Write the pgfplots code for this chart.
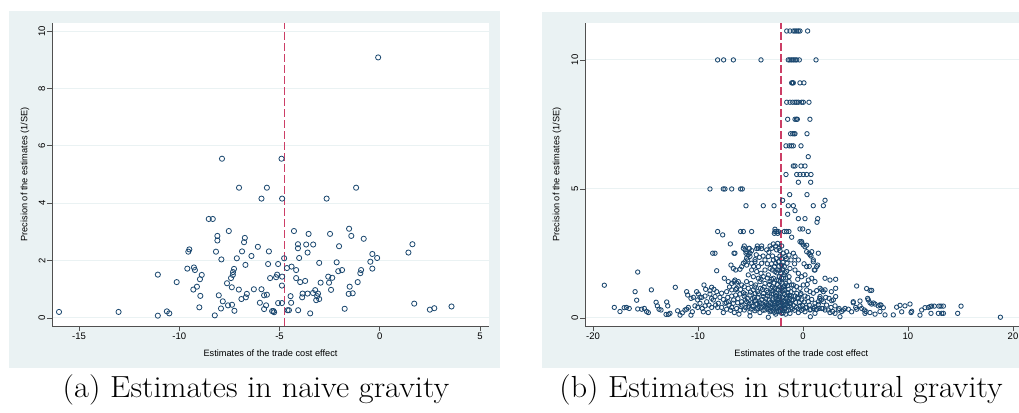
\documentclass[border=0pt]{standalone}
\usepackage{fontspec}
\usepackage{pgfplots}
\pgfplotsset{compat=1.18}
\newfontfamily\stata{Liberation Sans}
\definecolor{stbg}{RGB}{234,242,243}
\definecolor{stnavy}{RGB}{26,71,111}
\definecolor{stred}{RGB}{204,62,102}
\definecolor{staxis}{RGB}{80,80,80}
\pgfplotstableread{
x y
-7.87 5.55
-4.90 5.55
-7.02 4.54
-5.63 4.54
-5.90 4.16
-4.87 4.16
-2.65 4.16
-1.18 4.54
-8.53 3.45
-8.33 3.45
-7.53 3.03
-8.10 2.86
-8.10 2.70
-6.73 2.79
-6.77 2.64
-6.08 2.48
-9.50 2.39
-9.55 2.31
-8.17 2.31
-6.87 2.32
-5.53 2.32
-6.40 2.16
-7.90 2.04
-7.13 2.08
-4.77 2.08
-4.28 3.03
-3.55 2.93
-2.48 2.93
-1.53 3.11
-1.42 2.86
-0.80 2.76
-4.08 2.57
-4.08 2.43
-3.67 2.56
-3.32 2.56
-3.60 2.28
-2.03 2.50
-4.02 2.09
-0.37 2.23
-0.13 2.09
-0.47 1.96
-0.37 1.72
-6.70 1.85
-5.57 1.88
-5.07 1.88
-3.02 1.92
-2.15 1.94
-9.60 1.72
-9.27 1.76
-9.22 1.67
-11.07 1.51
-8.88 1.50
-8.97 1.35
-10.13 1.25
-7.27 1.71
-7.32 1.60
-7.33 1.50
-7.42 1.39
-4.63 1.74
-4.40 1.79
-4.17 1.67
-5.12 1.51
-5.17 1.42
-5.47 1.39
-4.87 1.44
-4.17 1.39
-3.97 1.25
-3.72 1.29
-2.57 1.44
-2.37 1.40
-2.53 1.23
-2.95 1.23
-2.07 1.63
-1.88 1.67
-0.93 1.67
-0.97 1.56
-1.10 1.25
-7.62 1.21
-7.38 1.07
-9.30 0.99
-9.12 1.09
-8.95 0.77
-8.03 0.79
-7.03 0.99
-6.28 1.00
-5.90 1.00
-5.77 0.79
-5.63 0.81
-4.88 1.13
-6.63 0.84
-6.68 0.72
-6.90 0.66
-3.22 0.97
-3.08 0.85
-3.12 0.76
-3.02 0.66
-3.17 0.62
-3.85 0.85
-3.60 0.85
-3.87 0.72
-3.33 0.87
-2.43 0.98
-4.45 0.76
-1.50 1.09
-1.55 0.84
-1.35 0.86
-7.83 0.58
-7.57 0.44
-7.37 0.46
-7.25 0.25
-9.00 0.37
-7.92 0.33
-8.23 0.09
-11.07 0.08
-10.62 0.23
-10.50 0.16
-5.98 0.53
-5.67 0.44
-5.77 0.31
-5.37 0.24
-5.27 0.20
-5.30 0.24
-5.07 0.52
-4.88 0.52
-4.53 0.27
-4.60 0.27
-4.42 0.53
-4.07 0.27
-3.47 0.16
-1.75 0.32
-16.00 0.21
-13.03 0.21
1.43 2.28
1.63 2.57
1.72 0.50
2.50 0.29
2.72 0.34
3.58 0.40
-0.08 9.08
}\naive
\pgfplotstableread{
x y
-1.55 11.12
-1.24 11.12
-0.92 11.12
-0.76 11.12
-0.60 11.12
-0.44 11.12
-0.29 11.12
0.44 11.12
-8.13 10
-7.56 10
-6.63 10
-4.00 10
-1.40 10
-1.24 10
-1.08 10
-0.92 10
-0.76 10
-0.60 10
-0.35 10
1.24 10
-1.08 9.11
-1.00 9.11
-0.92 9.11
-0.29 9.11
0.09 9.11
-1.55 8.36
-1.24 8.36
-0.98 8.36
-0.76 8.36
-0.60 8.36
-0.44 8.36
-0.13 8.36
0.03 8.36
0.57 8.36
-1.46 7.70
-0.76 7.70
-0.62 7.70
-0.54 7.70
0.66 7.70
-1.18 7.14
-0.98 7.14
-0.85 7.14
-0.76 7.14
0.38 7.14
-1.62 6.67
-1.30 6.67
-1.10 6.67
-0.92 6.67
-0.19 6.67
0.50 6.25
-0.92 5.89
-0.76 5.89
-0.19 5.89
0.19 5.89
-1.62 5.56
-0.60 5.56
-0.29 5.56
0.03 5.56
0.35 5.56
0.76 5.56
-0.44 5.26
0.73 5.26
-8.86 5
-7.59 5
-7.43 5
-6.79 5
-5.94 5
-5.78 5
-1.27 4.78
0.38 4.78
-1.94 4.56
2.10 4.56
-5.43 4.35
-3.78 4.35
-2.76 4.35
-1.40 4.35
-0.92 4.35
0.98 4.35
1.94 4.35
-0.76 4.16
-1.46 4.02
-0.44 3.85
0.19 3.85
1.40 3.85
1.33 3.71
-0.29 3.45
-0.03 3.45
-8.13 3.35
-5.94 3.35
-5.68 3.35
-4.89 3.35
-2.67 3.35
-2.51 3.35
-1.78 3.35
-1.56 3.35
-1.34 3.35
0.50 3.35
-7.65 3.22
-2.41 3.28
-1.08 3.13
-0.29 2.96
-0.13 2.96
0.35 2.82
-18.92 1.27
-17.97 0.41
-17.43 0.25
-17.03 0.40
-16.81 0.41
-16.55 0.37
-15.74 1.78
-15.99 1.02
-15.84 0.69
-15.74 0.35
-15.36 0.34
-15.11 0.37
-14.89 0.25
-14.73 0.21
-14.44 1.09
-13.99 0.61
-13.87 0.47
-13.71 0.34
-13.52 0.31
-12.98 0.62
-12.88 0.47
-13.04 0.14
-12.82 0.14
-12.67 0.18
-12.16 1.19
-11.94 0.28
-11.71 0.11
-11.49 0.20
-11.24 0.31
-11.08 0.34
-10.92 0.41
-10.67 0.11
-10.54 0.24
-11.08 1.02
-10.98 0.89
-10.67 0.76
-10.44 0.80
-10.13 1.02
-9.97 0.93
-9.65 0.80
-9.43 1.28
-9.27 1.11
-8.86 1.06
-8.70 1.19
-8.48 1.11
-8.22 1.83
-10.29 0.47
-10.03 0.41
-9.81 0.57
-9.59 0.37
-9.33 0.47
-9.17 0.63
-8.95 0.50
-8.70 0.41
-8.54 0.70
-8.32 0.50
-8.13 0.41
-9.49 0.24
-9.02 0.21
-10.03 0.70
-9.81 0.80
-9.33 0.85
-8.86 0.93
-8.38 0.83
-8.22 1.02
-8.70 0.76
-8.60 2.51
-8.38 2.51
-6.92 2.87
-6.86 2.05
-6.63 1.92
-6.41 1.86
-6.00 1.89
-5.84 1.99
-5.68 2.12
-5.52 2.18
-7.49 1.54
-7.11 1.41
-6.79 1.34
-6.48 1.47
-6.16 1.41
-5.84 1.28
-5.59 1.21
-6.32 1.15
-6.79 1.09
-7.27 1.02
-7.75 0.96
-7.91 0.80
-7.59 0.72
-7.17 0.80
-6.79 0.85
-6.41 0.89
-6.00 0.93
-5.68 0.98
-7.43 0.57
-7.05 0.50
-6.63 0.57
-6.22 0.59
-5.84 0.63
-5.52 0.70
-7.75 0.41
-7.27 0.34
-6.79 0.41
-6.32 0.37
-5.90 0.44
-5.59 0.31
-8.06 0.57
-7.59 0.21
-6.54 0.21
-6.10 0.15
-7.11 0.63
-6.57 2.51
-6.57 1.41
-6.32 1.35
-5.68 2.70
-5.52 2.64
-5.36 2.57
-5.11 2.69
-4.41 2.69
-3.94 2.69
-6.48 2.51
-5.43 2.51
-5.21 2.45
-5.37 2.32
-5.05 2.39
-4.57 2.26
-5.59 2.79
-5.14 2.70
-5.05 2.51
-4.89 2.61
-5.27 2.25
-4.35 2.79
-4.25 2.70
-3.94 2.79
-3.46 2.64
-3.14 2.79
-2.98 2.70
-5.37 2.05
-4.89 2.12
-4.57 2.18
-4.25 1.99
-3.94 2.12
-3.62 2.25
-3.30 2.38
-4.89 1.86
-4.41 1.80
-4.00 1.73
-3.62 1.86
-3.14 1.92
-5.21 1.67
-4.73 1.60
-4.25 1.54
-3.78 1.60
-3.30 1.67
-5.37 1.41
-4.95 1.34
-4.51 1.28
-4.10 1.41
-3.62 1.34
-3.14 1.41
-5.21 1.15
-4.73 1.09
-4.32 1.02
-3.87 1.11
-3.46 1.06
-3.05 1.15
-5.52 0.93
-5.05 0.89
-4.63 0.80
-4.25 0.93
-3.78 0.83
-3.37 0.85
-2.98 0.93
-5.37 0.63
-4.89 0.59
-4.51 0.67
-4.10 0.57
-3.62 0.63
-3.21 0.70
-5.21 0.44
-4.73 0.47
-4.32 0.37
-3.94 0.41
-3.46 0.47
-3.05 0.41
-5.05 0.24
-4.57 0.28
-4.10 0.21
-3.62 0.31
-3.14 0.24
-5.05 0.08
-3.30 0.03
-4.80 0.75
-4.40 0.55
-3.90 0.72
-3.50 0.55
-3.10 0.60
-4.95 0.35
-4.20 0.45
-3.70 0.45
-3.25 0.33
-4.60 1.20
-3.70 1.20
-3.20 1.30
-4.00 1.50
-3.40 1.55
-3.00 1.50
-4.70 2.00
-3.80 2.40
-3.40 2.10
-2.67 3.44
-2.73 3.28
-2.35 3.35
-2.82 2.87
-2.60 2.79
-2.41 2.89
-2.29 2.70
-2.51 2.64
-2.19 2.61
-2.03 2.79
-1.87 2.51
-1.71 2.38
-1.56 2.57
-1.33 2.44
-1.14 2.25
-2.82 2.25
-2.60 2.12
-2.35 2.18
-2.03 2.05
-1.78 1.99
-1.52 2.12
-1.24 1.92
-2.92 1.86
-2.67 1.80
-2.41 1.86
-2.10 1.73
-1.81 1.67
-1.56 1.80
-1.33 1.60
-2.82 1.54
-2.51 1.47
-2.19 1.41
-1.87 1.54
-1.62 1.34
-1.33 1.41
-1.08 1.28
-2.92 1.21
-2.67 1.15
-2.35 1.09
-2.03 1.15
-1.71 1.06
-1.40 1.11
-1.14 1.02
-2.82 0.93
-2.51 0.85
-2.19 0.89
-1.87 0.80
-1.56 0.85
-1.24 0.76
-2.92 0.70
-2.60 0.63
-2.29 0.70
-1.97 0.57
-1.65 0.63
-1.33 0.57
-1.08 0.70
-2.73 0.47
-2.41 0.41
-2.10 0.50
-1.78 0.37
-1.46 0.47
-1.14 0.41
-2.82 0.31
-2.51 0.24
-2.19 0.31
-1.87 0.21
-1.56 0.28
-1.24 0.18
-2.60 0.15
-2.03 0.18
-2.70 0.55
-2.35 0.60
-2.00 0.70
-1.70 0.50
-1.40 0.65
-2.55 0.75
-2.15 0.95
-1.75 0.90
-1.45 0.98
-2.45 1.30
-2.00 1.35
-1.75 1.25
-2.25 1.60
-1.95 1.90
-2.70 2.00
-2.20 2.40
-1.60 2.30
-2.45 0.35
-1.95 0.30
-1.65 0.15
-2.85 0.40
-2.30 0.85
-2.65 1.00
-0.92 2.51
-0.76 2.38
-0.44 2.25
-0.13 2.91
0.03 2.83
0.19 2.76
0.35 2.57
0.57 2.51
0.76 2.40
0.83 2.57
0.98 2.18
1.08 1.86
1.30 1.99
1.46 2.51
1.40 2.05
-0.76 1.86
-0.44 1.73
-0.13 1.60
0.19 1.67
0.51 1.47
0.83 1.54
1.14 1.41
-0.92 1.28
-0.60 1.21
-0.29 1.15
0.03 1.28
0.35 1.09
0.67 1.02
0.98 0.96
1.30 1.06
-0.76 0.85
-0.44 0.76
-0.13 0.70
0.19 0.85
0.51 0.63
0.83 0.72
1.14 0.57
1.46 0.63
-0.92 0.50
-0.60 0.41
-0.29 0.47
0.03 0.34
0.35 0.41
0.67 0.31
0.98 0.37
1.30 0.34
-0.44 0.21
0.19 0.24
0.70 0.05
1.14 0.18
-0.60 0.95
-0.20 0.95
0.40 1.30
-0.50 1.50
0.10 2.10
-0.80 2.10
0.60 2.00
0.98 2.25
1.14 1.86
0.35 1.99
0.67 2.45
1.62 1.15
1.78 1.09
1.94 1.02
2.10 1.09
2.10 1.54
2.57 1.47
3.11 1.50
3.11 1.15
2.89 0.70
1.62 0.83
1.94 0.63
2.25 0.50
2.67 0.41
3.05 0.47
3.43 0.37
3.84 0.31
4.32 0.34
4.63 0.24
5.02 0.41
5.43 0.47
5.84 0.31
6.22 0.70
6.38 0.59
6.54 0.54
6.86 0.54
7.17 0.47
7.43 0.50
7.65 0.40
7.81 0.12
6.86 0.15
5.90 0.18
4.79 0.63
5.43 0.66
4.00 0.37
3.52 0.05
2.57 0.21
2.10 0.31
1.78 0.37
5.11 1.24
6.06 1.14
6.38 1.07
6.54 1.07
6.16 0.76
6.70 0.58
7.33 0.51
0.73 0.33
1.11 0.43
1.27 0.33
1.52 0.37
1.90 0.37
1.46 0.53
1.59 0.76
1.75 0.70
2.16 0.80
2.48 0.76
2.73 0.67
3.11 0.83
2.70 1.02
2.41 0.31
2.83 0.25
3.05 0.18
3.37 0.31
3.68 0.25
4.79 0.59
5.11 0.34
5.59 0.37
6.00 0.25
6.38 0.21
7.33 0.25
8.60 0.12
8.92 0.42
9.24 0.49
9.40 0.24
9.71 0.47
10.19 0.54
10.29 0.21
10.35 0.26
11.14 0.11
11.30 0.31
11.62 0.40
11.94 0.41
12.10 0.44
12.25 0.46
12.19 0.18
12.51 0.46
12.89 0.18
12.95 0.46
13.14 0.46
13.21 0.18
13.37 0.46
13.37 0.18
14.73 0.18
15.05 0.46
18.80 0.03
-5.80 0.50
-5.60 0.85
-5.45 0.40
-5.30 0.75
-5.15 0.55
-5.00 1.00
-4.85 0.45
-4.65 0.65
-4.55 0.95
-4.45 0.35
-4.30 0.80
-4.15 0.62
-4.05 1.15
-3.95 0.55
-3.80 0.30
-3.75 0.95
-3.55 0.75
-3.45 0.38
-3.35 1.00
-3.28 0.50
-3.15 0.85
-3.05 0.28
-2.95 0.52
-2.88 1.05
-2.78 0.62
-2.72 0.22
-2.62 0.85
-2.58 0.42
-2.48 1.10
-2.40 0.68
-2.32 0.25
-2.25 0.48
-2.22 1.20
-2.12 0.62
-2.08 0.38
-1.98 1.05
-1.92 0.45
-1.85 0.65
-1.80 1.10
-1.68 0.38
-1.60 0.75
-1.52 0.55
-1.48 1.25
-1.38 0.30
-1.30 0.88
-1.20 0.55
-1.12 0.85
-1.02 0.35
-0.95 0.70
-0.85 1.10
-0.80 0.30
-0.70 0.60
-0.55 0.78
-0.45 0.35
-0.35 0.60
-0.25 0.90
-0.15 0.30
-0.05 0.50
0.10 0.62
0.25 0.40
0.45 0.80
0.60 0.50
-6.20 0.75
-6.00 0.30
-5.95 1.10
-6.60 0.70
-6.90 0.30
-7.30 0.60
-7.00 1.20
-6.40 1.10
-2.90 2.40
-2.55 2.30
-2.30 2.00
-2.05 2.30
-1.90 2.15
-2.50 1.75
-2.20 1.85
-1.70 1.75
-2.35 1.45
-2.05 1.55
-1.65 1.55
-2.75 1.35
-1.90 1.20
-3.00 2.10
-3.25 2.55
-4.15 2.35
-4.45 2.45
}\structural
\begin{document}
\begin{tikzpicture}
\useasboundingbox (0pt,0pt) rectangle (1019pt,412pt);
\fill[stbg] (9pt,44pt) rectangle (500pt,401pt);
\fill[stbg] (542pt,44pt) rectangle (1040pt,400pt);
\pgfplotsset{
  stata/.style={
    scale only axis,
    axis x line*=bottom, axis y line*=left,
    axis line style={staxis, line width=0.9pt, -},
    tick style={staxis, line width=0.8pt},
    tick align=outside,
    major tick length=5pt,
    minor tick num=0,
    ymajorgrids,
    grid style={stbg, line width=1pt},
    axis background/.style={fill=white},
    /pgf/number format/assume math mode=true,
    tick label style={font=\stata\fontsize{9.5}{10}\selectfont},
    yticklabel style={rotate=90, anchor=south, inner sep=1.5pt},
    xticklabel style={anchor=north, inner sep=2pt},
    label style={font=\stata\fontsize{9.2}{10}\selectfont},
    ylabel style={at={(axis description cs:0,0.5)}, anchor=center},
    scaled ticks=false,
    clip=true,
  }
}
\begin{axis}[stata,
  at={(52pt,86pt)}, anchor=south west, width=437pt, height=303pt,
  xmin=-16.35, xmax=5.45, ymin=-0.28, ymax=10.28,
  xtick={-15,-10,-5,0,5}, ytick={0,2,4,6,8,10},
  xlabel={Estimates of the trade cost effect},
  xlabel style={at={(axis description cs:0.5,0)}, anchor=center, yshift=-27pt},
  ylabel={Precision of the estimates (1/SE)},
  ylabel style={yshift=27pt},
]
\addplot[only marks, mark=o, mark size=2.6pt, mark options={stnavy, line width=0.8pt}] table[x=x,y=y] {\naive};
\addplot[no marks, stred, line width=1.4pt, dash pattern=on 8pt off 3pt] coordinates {(-4.75,-0.28) (-4.75,10.28)};
\end{axis}
\begin{axis}[stata,
  at={(585pt,86pt)}, anchor=south west, width=445pt, height=303pt,
  xmin=-20.76, xmax=21.62, ymin=-0.31, ymax=11.43,
  xtick={-20,-10,0,10,20}, ytick={0,5,10},
  xlabel={Estimates of the trade cost effect},
  xlabel style={at={(axis description cs:0.486,0)}, anchor=center, yshift=-27pt},
  ylabel={Precision of the estimates (1/SE)},
  ylabel style={yshift=28pt},
]
\addplot[only marks, mark=o, mark size=2.2pt, mark options={stnavy, line width=0.85pt}] table[x=x,y=y] {\structural};
\addplot[no marks, stred, line width=1.4pt, dash pattern=on 8pt off 3pt] coordinates {(-2.1,-0.31) (-2.1,11.43)};
\end{axis}
\node[font=\fontsize{30.5}{34}\selectfont, xscale=1.06] at (256pt,22pt) {(a) Estimates in naive gravity};
\node[font=\fontsize{30.5}{34}\selectfont, xscale=1.05] at (781pt,22pt) {(b) Estimates in structural gravity};
\end{tikzpicture}
\end{document}
